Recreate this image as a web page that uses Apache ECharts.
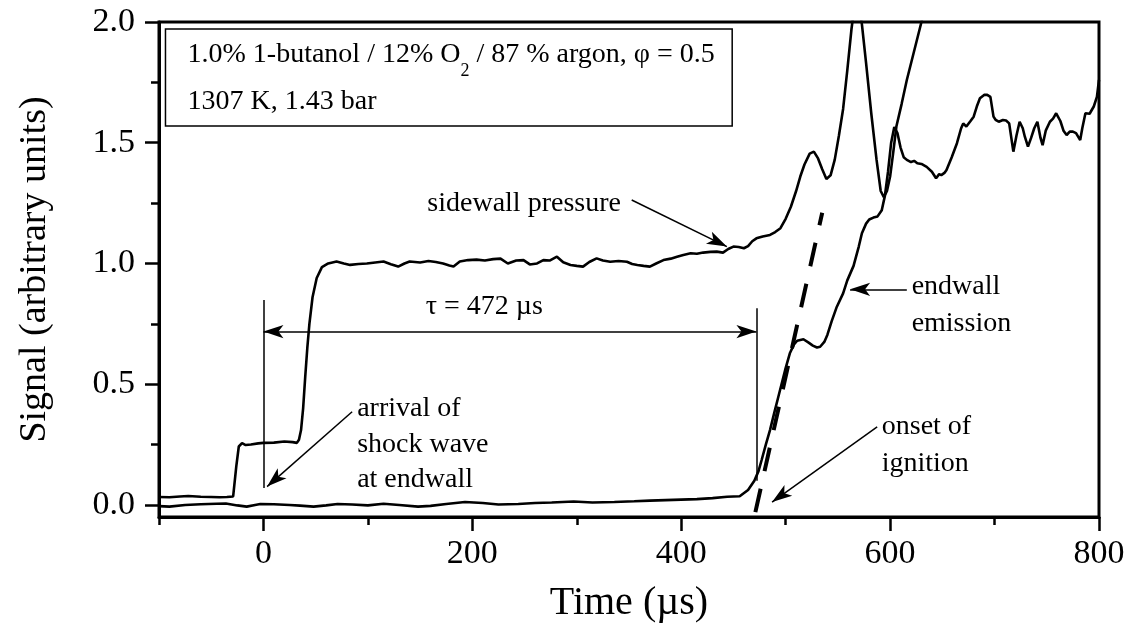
<!DOCTYPE html>
<html><head><meta charset="utf-8">
<script src="https://cdn.jsdelivr.net/npm/echarts@6/dist/echarts.min.js"></script>
<style>html,body{margin:0;padding:0;background:#fff}#c{width:1133px;height:637px}</style>
</head><body><div id="c"></div>
<script>
const FONT = "'Liberation Serif','Times New Roman',serif";

const pressureT = [-100,-90,-80,-72,-60,-50,-42,-35,-29,-26,-23.6,-20.5,-17,-12,-5,0,10,20,28,32,34,36,38,40,42,44,47,51,56,62,
70,77,83,91,99,107,115,122,129,135,140,150,158,165,172,178,182,188,196,204,212,220,227,234,242,249,255,262,268,274,281,287,294,300,306,312,319,325,332,340,348,353,358,364,370,376,383,390,396,402,409,415,421,428,434,440,445,450,455,460,464,468,472,478,485,490,495,500,505,510,514,518,523,527,531,535,539,543,547,551,555,559,563,566,568,570,573,577,582,587,591,594,597,600,603,606,611,616,623,630,640];
const pressureV = [0.033,0.032,0.035,0.037,0.034,0.033,0.032,0.033,0.035,0.16,0.242,0.256,0.248,0.25,0.255,0.257,0.258,0.263,0.26,0.257,0.27,0.31,0.40,0.53,0.65,0.75,0.86,0.94,0.985,1.0,
1.008,1.0,0.994,0.998,1.0,1.004,1.008,0.997,0.987,1.0,1.008,1.004,1.01,1.006,1.0,0.992,0.987,1.008,1.014,1.016,1.012,1.018,1.02,1.0,1.012,1.014,0.996,1.0,1.014,1.012,1.028,1.005,0.994,0.99,0.987,1.006,1.021,1.012,1.007,1.01,1.007,0.998,0.994,0.99,0.987,1.0,1.014,1.02,1.028,1.035,1.042,1.04,1.045,1.048,1.049,1.045,1.06,1.07,1.068,1.063,1.072,1.092,1.104,1.112,1.118,1.13,1.146,1.185,1.235,1.3,1.36,1.41,1.455,1.463,1.435,1.39,1.35,1.365,1.43,1.53,1.64,1.8,1.97,2.07,2.09,2.07,1.99,1.83,1.62,1.43,1.30,1.275,1.3,1.36,1.46,1.567,1.66,1.76,1.88,2.0,2.2];

const emissionT = [-100,-90,-75,-60,-45,-36,-25,-16,-8,-3,10,25,35,48,60,71,85,100,115,130,148,160,175,193,210,225,244,260,276,297,315,336,355,370,385,400,415,430,444,456,464,470,474,477,481,485,489,493,499.5,504,508,511,517,522,526,530,533,537,540,544,549,555,559,565,570,573,577,580,584,588,592,595,598,601,604,607,610,613,616,620,623,626,630,635,640,644,647,649,652,654,659,664,668,670,673,677,680,683,686,690,693,696,699,701,704,708,711,714,718,721,724,727,729,732,735,738,741,744,746,749,753,756,759,763,766,769,772,775,778,782,784,787,791,795,798,800];
const emissionV = [-0.005,-0.007,0.0,0.003,0.005,0.006,-0.002,-0.007,0.0,0.004,0.003,0.0,-0.003,-0.007,-0.002,0.004,0.002,-0.002,0.005,0.0,-0.007,-0.004,0.004,0.012,0.008,0.002,0.004,0.008,0.01,0.014,0.01,0.012,0.015,0.018,0.02,0.022,0.024,0.028,0.034,0.036,0.062,0.1,0.14,0.186,0.25,0.31,0.38,0.448,0.559,0.628,0.665,0.68,0.686,0.672,0.66,0.652,0.655,0.675,0.705,0.76,0.821,0.876,0.93,0.99,1.07,1.125,1.165,1.182,1.19,1.195,1.22,1.28,1.38,1.5,1.565,1.54,1.48,1.44,1.429,1.42,1.425,1.415,1.412,1.40,1.38,1.353,1.37,1.366,1.375,1.387,1.44,1.498,1.56,1.58,1.567,1.59,1.608,1.65,1.684,1.698,1.698,1.69,1.608,1.595,1.587,1.594,1.592,1.58,1.463,1.53,1.587,1.56,1.525,1.484,1.52,1.56,1.587,1.52,1.49,1.55,1.587,1.6,1.622,1.59,1.55,1.532,1.546,1.546,1.54,1.511,1.56,1.622,1.62,1.65,1.69,1.76];

const tangentT = [471, 535];
const tangentV = [-0.03, 1.21];

const xMajorTicks = [0, 200, 400, 600, 800];
const xMinorTicks = [-100, 100, 300, 500, 700];
const yMajorTicks = [0, 0.5, 1.0, 1.5, 2.0];
const yMinorTicks = [0.25, 0.75, 1.25, 1.75];

const xTitle = 'Time (µs)';
const yTitle = 'Signal (arbitrary units)';
const legendLine1 = ['1.0% 1-butanol / 12% O', '2', ' / 87 % argon, φ = 0.5'];
const legendLine2 = '1307 K, 1.43 bar';
const tauLabel = 'τ = 472 µs';
const tauStart = 0, tauEnd = 472;

const zip = (a, b) => a.map((v, i) => [v, b[i]]);
const black = '#000';

const chart = echarts.init(document.getElementById('c'), null, {renderer: 'canvas'});

const baseX = {
  type: 'value', min: -100, max: 800, position: 'bottom',
  splitLine: {show: false}
};
const baseY = {
  type: 'value', min: -0.05, max: 2.0, position: 'left',
  splitLine: {show: false}
};

const lineEnd = (a, b, sa, sb) => [{coord: a, symbol: sa}, {coord: b, symbol: sb}];

chart.setOption({
  animation: false,
  backgroundColor: '#fff',
  grid: {left: 159, right: 34, top: 22, bottom: 120, show: true, borderColor: black, borderWidth: 3, containLabel: false},
  xAxis: [
    Object.assign({}, baseX, {
      axisLine: {show: true, onZero: false, lineStyle: {color: black, width: 3}},
      axisTick: {show: true, length: 14, customValues: xMajorTicks, lineStyle: {color: black, width: 2.5}},
      axisLabel: {show: true, customValues: xMajorTicks, margin: 20, color: black, fontSize: 34, fontFamily: FONT, formatter: v => String(v)},
      name: xTitle, nameLocation: 'middle', nameGap: 66,
      nameTextStyle: {color: black, fontSize: 40, fontFamily: FONT}
    }),
    Object.assign({}, baseX, {
      axisLine: {show: false, onZero: false},
      axisTick: {show: true, length: 8, customValues: xMinorTicks, lineStyle: {color: black, width: 2.5}},
      axisLabel: {show: false}
    })
  ],
  yAxis: [
    Object.assign({}, baseY, {
      axisLine: {show: true, onZero: false, lineStyle: {color: black, width: 3}},
      axisTick: {show: true, length: 14, customValues: yMajorTicks, lineStyle: {color: black, width: 2.5}},
      axisLabel: {show: true, customValues: yMajorTicks, margin: 24, color: black, fontSize: 34, fontFamily: FONT, formatter: v => v.toFixed(1)},
      name: yTitle, nameLocation: 'middle', nameGap: 105, nameRotate: 90,
      nameTextStyle: {color: black, fontSize: 38, fontFamily: FONT}
    }),
    Object.assign({}, baseY, {
      axisLine: {show: false, onZero: false},
      axisTick: {show: true, length: 8, customValues: yMinorTicks, lineStyle: {color: black, width: 2.5}},
      axisLabel: {show: false}
    })
  ],
  series: [
    {
      name: 'sidewall pressure', type: 'line', data: zip(pressureT, pressureV),
      showSymbol: false, symbol: 'none', clip: true, silent: true,
      lineStyle: {color: black, width: 2.6},
      markLine: {
        silent: true, animation: false,
        symbolSize: [10, 20],
        label: {show: false},
        lineStyle: {color: black, width: 1.5, type: 'solid'},
        emphasis: {disabled: true},
        data: [
          lineEnd([tauStart, 0.07], [tauStart, 0.849], 'none', 'none'),
          lineEnd([tauEnd, 0.10], [tauEnd, 0.815], 'none', 'none'),
          lineEnd([tauStart, 0.718], [tauEnd, 0.718], 'arrow', 'arrow'),
          lineEnd([352.6, 1.263], [443.7, 1.07], 'none', 'arrow'),
          lineEnd([616, 0.893], [561.7, 0.893], 'none', 'arrow'),
          lineEnd([587.6, 0.323], [487, 0.012], 'none', 'arrow'),
          lineEnd([84.9, 0.386], [3.5, 0.076], 'none', 'arrow')
        ]
      }
    },
    {
      name: 'endwall emission', type: 'line', data: zip(emissionT, emissionV),
      showSymbol: false, symbol: 'none', clip: true, silent: true,
      lineStyle: {color: black, width: 2.6}
    },
    {
      name: 'tangent', type: 'line', data: zip(tangentT, tangentV),
      showSymbol: false, symbol: 'none', clip: true, silent: true,
      lineStyle: {color: black, width: 4, type: [24, 18]}
    }
  ]
});

function px(t, v) { return chart.convertToPixel({xAxisIndex: 0, yAxisIndex: 0}, [t, v]); }
function txt(text, t, v, size, align) {
  const p = px(t, v);
  return {type: 'text', x: p[0], y: p[1], silent: true,
    style: {text: text, fill: black, font: size + 'px ' + FONT, fontSize: size, fontFamily: FONT, align: align || 'left', verticalAlign: 'middle'}};
}
const b0 = px(-93.8, 1.971), b1 = px(448.8, 1.569);
const l1 = px(-72.7, 1.863);
const graphics = [
  {type: 'rect', silent: true, shape: {x: b0[0], y: b0[1], width: b1[0] - b0[0], height: b1[1] - b0[1]},
   style: {fill: 'none', stroke: black, lineWidth: 1.5}},
  {type: 'text', x: l1[0], y: l1[1], silent: true,
   style: {text: '{a|' + legendLine1[0] + '}{s|' + legendLine1[1] + '}{a|' + legendLine1[2] + '}',
     verticalAlign: 'middle', align: 'left', fill: black,
     rich: {a: {fontSize: 28, fontFamily: FONT, lineHeight: 50, verticalAlign: 'middle', fill: black},
            s: {fontSize: 18, fontFamily: FONT, lineHeight: 50, verticalAlign: 'bottom', fill: black}}}},
  txt(legendLine2, -72.7, 1.669, 28),
  txt('sidewall pressure', 156.9, 1.249, 28),
  txt(tauLabel, 211.5, 0.821, 28, 'center'),
  txt('arrival of', 89.7, 0.40, 28),
  txt('shock wave', 89.7, 0.248, 28),
  txt('at endwall', 89.7, 0.104, 28),
  txt('endwall', 620.6, 0.904, 28),
  txt('emission', 620.6, 0.752, 28),
  txt('onset of', 592, 0.324, 28),
  txt('ignition', 592, 0.173, 28)
];
chart.setOption({graphic: graphics});
</script></body></html>
